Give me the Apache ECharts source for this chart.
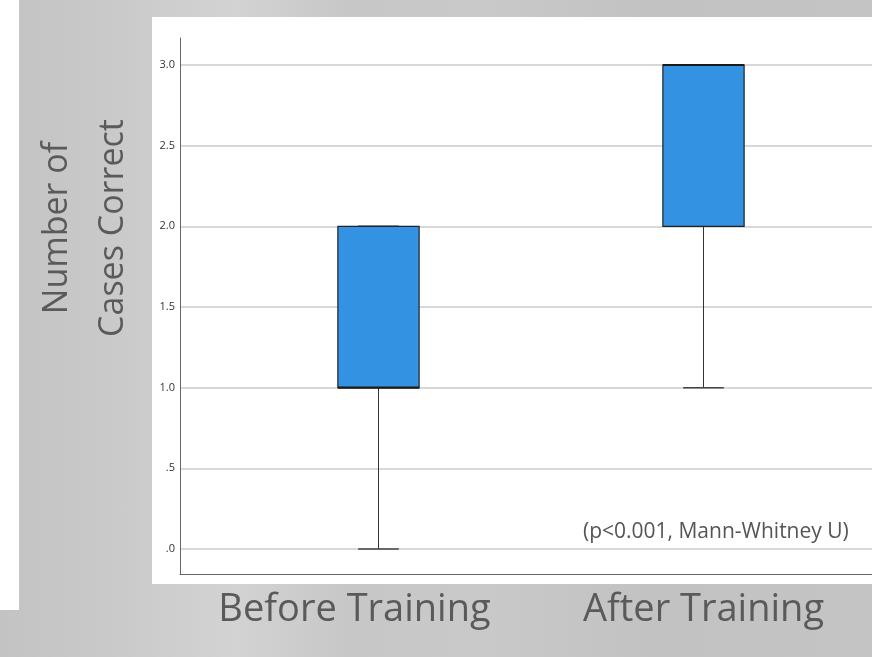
<!DOCTYPE html>
<html>
<head>
<meta charset="utf-8">
<script src="https://cdn.jsdelivr.net/npm/echarts@6/dist/echarts.min.js"></script>
<style>
    html, body { margin: 0; padding: 0; }
    #wrap {
        position: relative; width: 872px; height: 657px; overflow: hidden;
        background: linear-gradient(90deg, #c3c3c3 0%, #c9c9c9 12%, #d3d3d3 27%, #c7c7c7 40%, #c9c9c9 55%, #c2c2c2 75%, #c4c4c4 100%);
    }
    #strip { position: absolute; left: 0; top: 0; width: 19px; height: 610px; background: #fff; }
    #panel { position: absolute; left: 152px; top: 17px; width: 720px; height: 567px; background: #fff; }
    #chart { position: absolute; left: 0; top: 0; width: 872px; height: 657px; }
</style>
</head>
<body>
<div id="wrap">
    <div id="strip"></div>
    <div id="panel"></div>
    <div id="chart"></div>
</div>
<script>
// Box plot: cases correct before / after training
const categories = ["Before Training", "After Training"];
const mins = [0, 1];
const q1s = [1, 2];
const medians = [1, 3];
const q3s = [2, 3];
const maxs = [2, 3];
const yTickLabels = [".0", ".5", "1.0", "1.5", "2.0", "2.5", "3.0"];

const boxData = categories.map((c, i) => [i, mins[i], q1s[i], medians[i], q3s[i], maxs[i]]);

const renderBox = (params, api) => {
    const idx = api.value(0);
    const pMin = api.coord([idx, api.value(1)]);
    const pQ1 = api.coord([idx, api.value(2)]);
    const pMed = api.coord([idx, api.value(3)]);
    const pQ3 = api.coord([idx, api.value(4)]);
    const pMax = api.coord([idx, api.value(5)]);
    const band = api.size([1, 0])[0];
    const boxW = band * 0.25;
    const capW = boxW / 2;
    const cx = pMed[0];
    const lineStyle = { stroke: "#333", lineWidth: 1 };
    return {
        type: "group",
        children: [
            { type: "line", shape: { x1: cx, y1: pQ1[1], x2: cx, y2: pMin[1] }, style: lineStyle },
            { type: "line", shape: { x1: cx, y1: pQ3[1], x2: cx, y2: pMax[1] }, style: lineStyle },
            { type: "line", shape: { x1: cx - capW / 2, y1: pMin[1], x2: cx + capW / 2, y2: pMin[1] }, style: { stroke: "#444", lineWidth: 1.5 } },
            { type: "line", shape: { x1: cx - capW / 2, y1: pMax[1], x2: cx + capW / 2, y2: pMax[1] }, style: { stroke: "#444", lineWidth: 1.5 } },
            {
                type: "rect",
                shape: { x: cx - boxW / 2, y: pQ3[1], width: boxW, height: pQ1[1] - pQ3[1] },
                style: { fill: "#3392e2", stroke: "#222", lineWidth: 1.2 }
            },
            { type: "line", shape: { x1: cx - boxW / 2, y1: pMed[1], x2: cx + boxW / 2, y2: pMed[1] }, style: { stroke: "#1a1a1a", lineWidth: 2.2 } }
        ]
    };
};

const chart = echarts.init(document.getElementById("chart"));
chart.setOption({
    backgroundColor: "transparent",
    animation: false,
    textStyle: { fontFamily: "Open Sans" },
    grid: [
        { left: 216, width: 650, top: 65, height: 484 },
        { left: 180, right: 0, top: 65, height: 484 },
        { left: 180, right: 0, top: 38, bottom: 83 }
    ],
    xAxis: [
        {
            gridIndex: 0, type: "category", data: categories,
            axisLine: { show: false }, axisTick: { show: false }, splitLine: { show: false },
            axisLabel: {
                interval: 0, hideOverlap: false,
                margin: 42, fontSize: 38, color: "#5a5a5a", fontFamily: "Open Sans",
                formatter: (v, i) => i === 0 ? "{a|" + v + "}" : "{b|" + v + "}",
                rich: {
                    a: { fontSize: 38, color: "#5a5a5a", fontFamily: "Open Sans", padding: [0, 48, 0, 0] },
                    b: { fontSize: 38, color: "#5a5a5a", fontFamily: "Open Sans" }
                }
            }
        },
        { gridIndex: 1, type: "value", show: false },
        {
            gridIndex: 2, type: "value", min: 0, max: 1,
            axisLine: { show: true, onZero: false, lineStyle: { color: "#666", width: 1 } },
            axisTick: { show: false }, axisLabel: { show: false }, splitLine: { show: false }
        }
    ],
    yAxis: [
        { gridIndex: 0, type: "value", min: 0, max: 3, show: false },
        {
            gridIndex: 1, type: "value", min: 0, max: 3, interval: 0.5,
            axisLine: { show: false }, axisTick: { show: false },
            axisLabel: {
                margin: 5, fontSize: 11, color: "#333", fontFamily: "Open Sans",
                formatter: (v) => yTickLabels[Math.round(v / 0.5)]
            },
            splitLine: { lineStyle: { color: "#cbcbcb", width: 1.5 } }
        },
        {
            gridIndex: 2, type: "value", min: 0, max: 1,
            axisLine: { show: true, onZero: false, lineStyle: { color: "#666", width: 1 } },
            axisTick: { show: false }, axisLabel: { show: false }, splitLine: { show: false }
        }
    ],
    graphic: [
        {
            type: "text", x: 85, y: 228, rotation: Math.PI / 2,
            style: {
                text: "Number of\nCases Correct", align: "center", verticalAlign: "middle",
                fontSize: 34, lineHeight: 56, fill: "#5a5a5a", fontFamily: "Open Sans"
            }
        },
        {
            type: "text", x: 583, y: 532,
            style: {
                text: "(p<0.001, Mann-Whitney U)", align: "left", verticalAlign: "middle",
                fontSize: 21, fill: "#555", fontFamily: "Open Sans"
            }
        }
    ],
    series: [{
        type: "custom",
        xAxisIndex: 0, yAxisIndex: 0,
        renderItem: renderBox,
        data: boxData,
        z: 3
    }]
});
</script>
</body>
</html>
